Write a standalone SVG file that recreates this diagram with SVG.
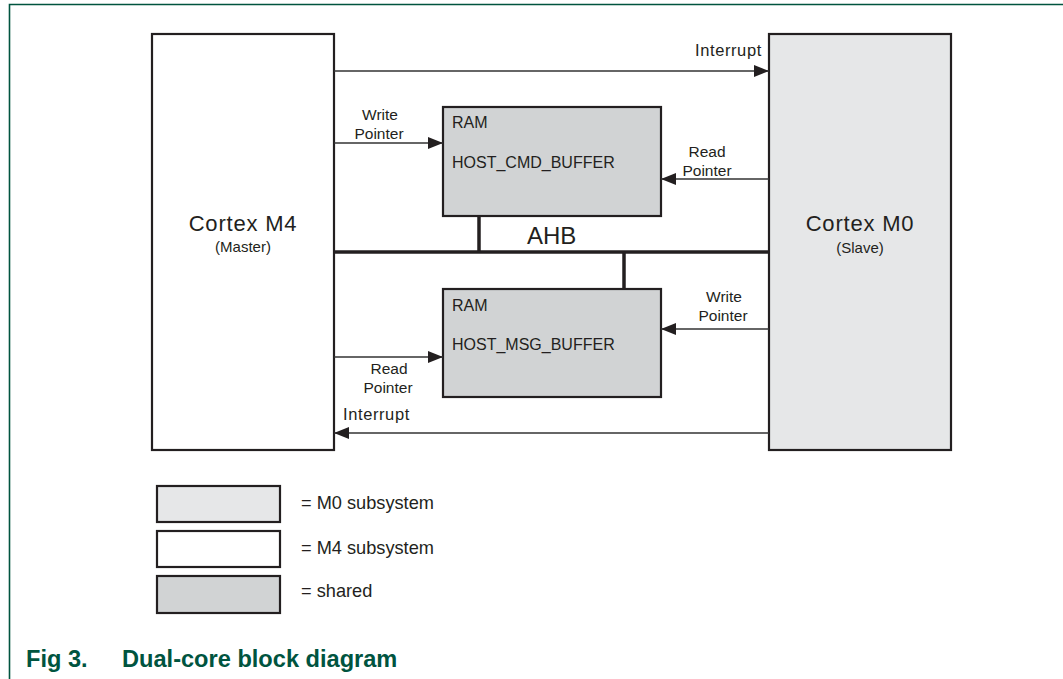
<svg xmlns="http://www.w3.org/2000/svg" width="1063" height="679" viewBox="0 0 1063 679">
<defs>
<style>
text{font-family:"Liberation Sans",Arial,sans-serif;fill:#231f20}
.box{stroke:#231f20;stroke-width:2.2}
.m4{fill:#ffffff}
.m0{fill:#e6e7e8}
.sh{fill:#d1d3d4}
.conn{stroke:#333;stroke-width:1.4;fill:none}
.bus{stroke:#231f20;stroke-width:3.5;fill:none}
.lbl{font-size:15.5px}
.big{font-size:22px;letter-spacing:0.8px}
.sub{font-size:15px}
.ram{font-size:16px}
.leg{font-size:18.2px}
.cap{font-family:"Liberation Sans",Arial,sans-serif;font-weight:bold;font-size:23.6px;fill:#00543f}
</style>
<marker id="arr" markerWidth="16" markerHeight="12" refX="15" refY="6" orient="auto" markerUnits="userSpaceOnUse">
<path d="M0,0 L15,6 L0,12 Z" fill="#231f20"/>
</marker>
</defs>
<rect width="1063" height="679" fill="#ffffff"/>
<g id="frame">
<path d="M9.5,679 V4.5 H1063" fill="none" stroke="#00543f" stroke-width="1.6"/>
</g>
<g id="cortex-m4">
<rect class="box m4" x="152" y="34" width="182" height="416"/>
<text class="big" x="243" y="231" text-anchor="middle">Cortex M4</text>
<text class="sub" x="243" y="252" text-anchor="middle">(Master)</text>
</g>
<g id="cortex-m0">
<rect class="box m0" x="769" y="34" width="182" height="416"/>
<text class="big" x="860" y="231" text-anchor="middle">Cortex M0</text>
<text class="sub" x="860" y="253" text-anchor="middle">(Slave)</text>
</g>
<g id="ram-cmd">
<rect class="box sh" x="443" y="107" width="218" height="109"/>
<text class="ram" x="452" y="128">RAM</text>
<text class="ram" x="452" y="168">HOST_CMD_BUFFER</text>
</g>
<g id="ram-msg">
<rect class="box sh" x="443" y="289" width="218" height="108"/>
<text class="ram" x="452" y="311">RAM</text>
<text class="ram" x="452" y="350">HOST_MSG_BUFFER</text>
</g>
<g id="connectors">
<path class="bus" d="M334,252 H769"/>
<path class="bus" d="M479,216 V252"/>
<path class="bus" d="M624,252 V289"/>
<path class="conn" d="M334,71 H769" marker-end="url(#arr)"/>
<path class="conn" d="M334,143 H443" marker-end="url(#arr)"/>
<path class="conn" d="M769,179 H661" marker-end="url(#arr)"/>
<path class="conn" d="M769,329 H661" marker-end="url(#arr)"/>
<path class="conn" d="M334,357 H443" marker-end="url(#arr)"/>
<path class="conn" d="M769,433 H334" marker-end="url(#arr)"/>
<text x="527" y="244" style="font-size:24px">AHB</text>
<text class="lbl" x="695" y="56" style="font-size:16.5px;letter-spacing:0.6px">Interrupt</text>
<text class="lbl" x="380" y="120" text-anchor="middle">Write</text>
<text class="lbl" x="379" y="139" text-anchor="middle">Pointer</text>
<text class="lbl" x="707" y="157" text-anchor="middle">Read</text>
<text class="lbl" x="707" y="176" text-anchor="middle">Pointer</text>
<text class="lbl" x="724" y="302" text-anchor="middle">Write</text>
<text class="lbl" x="723" y="321" text-anchor="middle">Pointer</text>
<text class="lbl" x="389" y="374" text-anchor="middle">Read</text>
<text class="lbl" x="388" y="393" text-anchor="middle">Pointer</text>
<text class="lbl" x="343" y="420" style="font-size:16.5px;letter-spacing:0.6px">Interrupt</text>
</g>
<g id="legend">
<rect class="box m0" x="157" y="486" width="123" height="36"/>
<rect class="box m4" x="157" y="531" width="123" height="36"/>
<rect class="box sh" x="157" y="576" width="123" height="37"/>
<text class="leg" x="301" y="509">= M0 subsystem</text>
<text class="leg" x="301" y="554">= M4 subsystem</text>
<text class="leg" x="301" y="597">= shared</text>
</g>
<g id="caption">
<text class="cap" x="26" y="667">Fig 3.</text>
<text class="cap" x="122" y="667">Dual-core block diagram</text>
</g>
</svg>
